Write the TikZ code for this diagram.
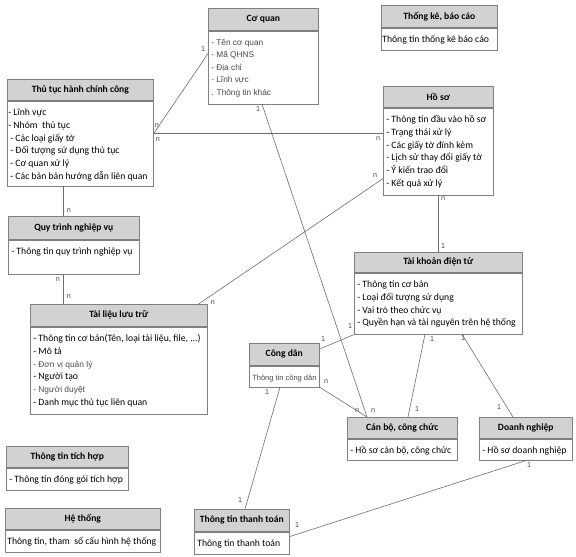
\documentclass[tikz,border=0pt]{standalone}
\usepackage{fontspec}
\setmainfont{Carlito}
\newfontfamily\arialfont{Liberation Sans}
\definecolor{boxgray}{HTML}{808080}
\definecolor{headgray}{HTML}{D2D2D2}
\definecolor{linegray}{HTML}{6E6E6E}
\definecolor{textgray}{HTML}{4A4A4A}

\tikzset{
  classhead/.style={draw=boxgray, fill=headgray, line width=0.6pt, anchor=north west,
    inner sep=0pt, font=\bfseries\fontsize{9.6}{11}\selectfont},
  classbody/.style={draw=boxgray, fill=white, line width=0.6pt, anchor=north west, inner sep=0pt},
  link/.style={draw=linegray, line width=0.6pt},
  mult/.style={inner sep=0pt, text=textgray, font=\arialfont\fontsize{7.2}{8}\selectfont}
}

% class box: name, x, y, width, head height, body height, title, lines
\newcommand\classbox[8]{%
  \node[classhead, minimum width=#4pt, minimum height=#5pt] (#1h) at (#2,#3) {#7};
  \node[classbody] (#1) at (#1h.south west)
    {\begin{minipage}[t][#6pt][t]{#4pt}\lineskiplimit=-20pt
      \fontsize{9.7}{12.8}\selectfont\raggedright\leftskip=3pt
      \leavevmode\rule{0pt}{14.5pt}#8\end{minipage}};
}
\newcommand\grayitem[1]{{\arialfont\fontsize{8.4}{12.8}\selectfont\color{textgray}#1}}

\begin{document}
\begin{tikzpicture}[x=1pt, y=-1pt]
\fill[white] (0,0) rectangle (576,557);
\useasboundingbox (0,0) rectangle (576,557);
%classes
\classbox{coquan}{208}{8}{110}{22}{73}{Cơ quan}
  {\arialfont\fontsize{8.3}{12.5}\selectfont\color{textgray}- Tên cơ quan\\- Mã QHNS\\- Địa chỉ\\- Lĩnh vực\\. Thông tin khác}
\classbox{thongke}{381}{5}{116}{22}{22}{Thống kê, báo cáo}
  {\hspace*{-2pt}Thông tin thống kê báo cáo}
\classbox{thutuc}{7}{79}{146}{21}{85}{Thủ tục hành chính công}
  {\hspace*{-2pt}- Lĩnh vực\\\hspace*{-2pt}- Nhóm~ thủ tục\\- Các loại giấy tờ\\- Đối tượng sử dụng thủ tục\\- Cơ quan xử lý\\- Các bản bản hướng dẫn liên quan}
\classbox{hoso}{383}{86}{110}{21}{87}{Hồ sơ}
  {- Thông tin đầu vào hồ sơ\\- Trạng thái xử lý\\- Các giấy tờ đính kèm\\- Lịch sử thay đổi giấy tờ\\- Ý kiến trao đổi\\- Kết quả xử lý}
\classbox{quytrinh}{8}{216}{131}{23}{34}{Quy trình nghiệp vụ}
  {- Thông tin quy trình nghiệp vụ}
\classbox{tailieu}{30}{304}{177}{22}{87}{Tài liệu lưu trữ}
  {- Thông tin cơ bản(Tên, loại tài liệu, file, ...)\\- Mô tả\\\grayitem{- Đơn vị quản lý}\\- Người tạo\\\grayitem{- Người duyệt}\\- Danh mục thủ tục liên quan}
\classbox{taikhoan}{354}{252}{168}{20}{61}{Tài khoản điện tử}
  {- Thông tin cơ bản\\- Loại đối tượng sử dụng\\- Vai trò theo chức vụ\\- Quyền hạn và tài nguyên trên hệ thống}
\classbox{congdan}{249}{343}{70}{22}{21}{Công dân}
  {{\arialfont\fontsize{7.5}{12.8}\selectfont\color{textgray}Thông tin công dân}}
\classbox{canbo}{347}{417}{110}{21}{21}{Cán bộ, công chức}
  {- Hồ sơ cán bộ, công chức}
\classbox{doanhnghiep}{479}{417}{93}{21}{21}{Doanh nghiệp}
  {- Hồ sơ doanh nghiệp}
\classbox{tichhop}{6}{446}{122}{21}{22}{Thông tin tích hợp}
  {- Thông tin đóng gói tích hợp}
\classbox{hethong}{5}{508}{155}{21}{22}{Hệ thống}
  {\hspace*{-1pt}Thông tin, tham~ số cấu hình hệ thống}
\classbox{thanhtoan}{194}{509}{95}{22}{22}{Thông tin thanh toán}
  {Thông tin thanh toán}
%links
\draw[link] ([yshift=-23pt]coquan.north west) -- ([yshift=-33pt]thutuc.north east);
\draw[link] ([yshift=-33pt]thutuc.north east) -- ([yshift=-26pt]hoso.north west);
\draw[link] ([xshift=54pt]coquan.south west) -- ([xshift=20pt]canboh.north west);
\draw[link] ([yshift=-71pt]hoso.north west) -- ([xshift=-9pt]tailieuh.north east);
\draw[link] ([xshift=55pt]hoso.south west) -- ([xshift=84pt]taikhoanh.north west);
\draw[link] ([xshift=56pt]thutuc.south west) -- ([xshift=55pt]quytrinhh.north west);
\draw[link] ([xshift=55pt]quytrinh.south west) -- ([xshift=33pt]tailieuh.north west);
\draw[link] ([xshift=1pt]taikhoan.south west) -- ([yshift=-6pt]congdanh.north east);
\draw[link] ([xshift=71pt]taikhoan.south west) -- ([xshift=61pt]canboh.north west);
\draw[link] ([xshift=108pt]taikhoan.south west) -- ([xshift=34pt]doanhnghieph.north west);
\draw[link] (congdan.south east) -- ([xshift=20pt]canboh.north west);
\draw[link] ([xshift=31pt]congdan.south west) -- ([xshift=51pt]thanhtoanh.north west);
\draw[link] ([xshift=48pt]doanhnghiep.south west) -- ([yshift=-5pt]thanhtoan.north east);
%multiplicities
\node[mult] (m1) at (203,49) {1};
\node[mult] (m2) at (157,126) {n};
\node[mult] (m3) at (158,140) {n};
\node[mult] (m4) at (378,139) {n};
\node[mult] (m5) at (258,109) {1};
\node[mult] (m6) at (375,176) {n};
\node[mult] (m7) at (213,303) {n};
\node[mult] (m8) at (443,199) {n};
\node[mult] (m9) at (443,246) {1};
\node[mult] (m10) at (69,211) {n};
\node[mult] (m11) at (58,280) {n};
\node[mult] (m12) at (69,297) {n};
\node[mult] (m13) at (350,326) {1};
\node[mult] (m14) at (323,339) {1};
\node[mult] (m15) at (432,339) {1};
\node[mult] (m16) at (417,409) {1};
\node[mult] (m17) at (463,338) {1};
\node[mult] (m18) at (499,407) {1};
\node[mult] (m19) at (326,382) {n};
\node[mult] (m20) at (373,411) {n};
\node[mult] (m21) at (357,411) {n};
\node[mult] (m22) at (267,392) {1};
\node[mult] (m23) at (240,500) {1};
\node[mult] (m24) at (529,465) {1};
\node[mult] (m25) at (297,525) {1};
\end{tikzpicture}
\end{document}
